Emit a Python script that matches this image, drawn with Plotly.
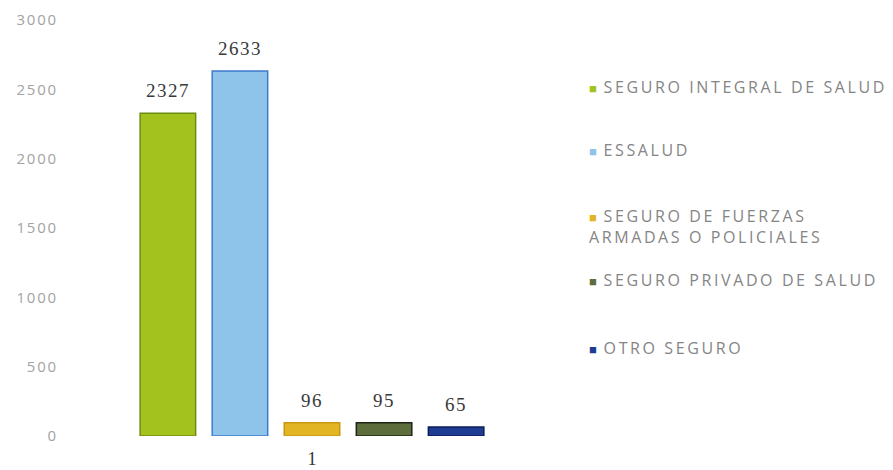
import plotly.graph_objects as go

categories = ["1"]
series_names = [
    "SEGURO INTEGRAL DE SALUD",
    "ESSALUD",
    "SEGURO DE FUERZAS<br>ARMADAS O POLICIALES",
    "SEGURO PRIVADO DE SALUD",
    "OTRO SEGURO",
]
series_values = [2327, 2633, 96, 95, 65]
fill_colors = ["#a4c21e", "#8ec3ea", "#e2b524", "#5d6e3c", "#1f3c93"]
line_colors = ["#6f8c12", "#3d7bcc", "#c9980f", "#1e2414", "#0c1c5a"]
y_ticks = [0, 500, 1000, 1500, 2000, 2500, 3000]

OFF = 8  # browser body margin
L, W, T, H = 51, 506, 12, 416
BARGAP, GROUPGAP = 0.288, 0.23
n = len(series_values)

fig = go.Figure()
for name, val, fc, lc in zip(series_names, series_values, fill_colors, line_colors):
    fig.add_trace(go.Bar(
        x=categories, y=[val], name=name,
        marker=dict(color=fc, line=dict(color=lc, width=1.5)),
        showlegend=False,
    ))

# value labels at the bar positions (category axis units)
slot = (1 - BARGAP) / n
for i, val in enumerate(series_values):
    fig.add_annotation(
        xref="x", yref="y", x=(i - (n - 1) / 2) * slot, y=val,
        yanchor="bottom", yshift=10, showarrow=False,
        text=f'<span style="letter-spacing:1.5px">{val}</span>',
        font=dict(family="Liberation Serif", size=19, color="#3a3a3a"),
    )

# legend drawn as annotations (position/style only)
legend_y = [87, 150, 226, 280, 348]
for name, fc, yy in zip(series_names, fill_colors, legend_y):
    label = name.replace("<br>", '</span><br><span style="letter-spacing:2.6px">')
    fig.add_annotation(
        xref="paper", yref="paper",
        x=(587 - OFF - L) / W, y=1 - (yy - OFF - T) / H,
        xanchor="left", yanchor="middle", align="left", showarrow=False,
        text=f'<span style="color:{fc};font-size:13px">■</span><span style="letter-spacing:2.6px"> {label}</span>',
        font=dict(family="Open Sans", size=16, color="#858585"),
    )

fig.update_layout(
    width=893, height=470,
    margin=dict(l=L, r=893 - L - W, t=T, b=470 - T - H, autoexpand=False),
    paper_bgcolor="white", plot_bgcolor="white",
    barmode="group", bargap=BARGAP, bargroupgap=GROUPGAP,
    xaxis=dict(showgrid=False, zeroline=False, showline=False, automargin=False,
               tickfont=dict(family="Liberation Serif", size=18, color="#333333"),
               ticklabelstandoff=10, ticklabeloverflow="allow"),
    yaxis=dict(range=[0, 3000], tickvals=y_ticks,
               ticktext=[f'<span style="letter-spacing:1.8px">{v}</span>' for v in y_ticks],
               showgrid=False, zeroline=False,
               showline=False, automargin=False, ticklabeloverflow="allow",
               tickfont=dict(family="Open Sans", size=15, color="#a3a3a3"),
               ticklabelstandoff=0),
)

fig.write_html("out.html")
